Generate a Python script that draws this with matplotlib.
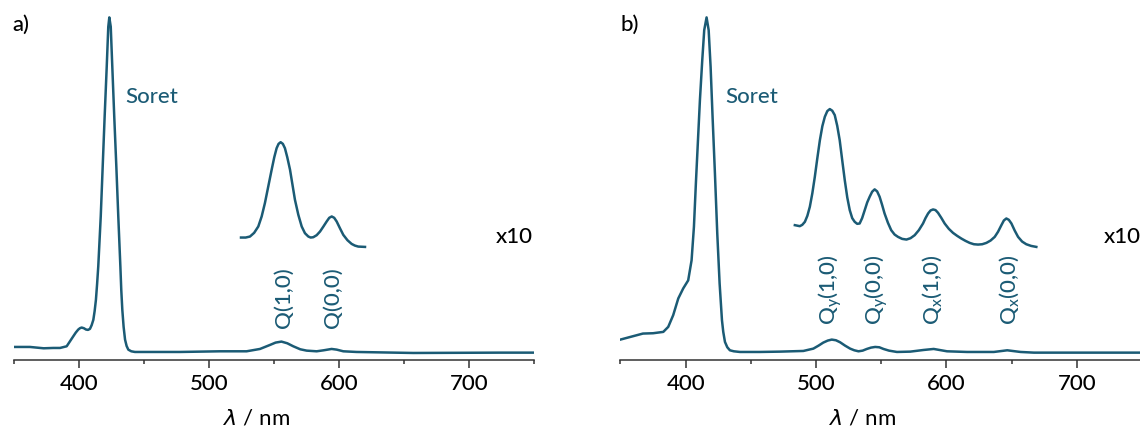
import matplotlib
matplotlib.use("Agg")
import matplotlib.pyplot as plt
from matplotlib.ticker import MultipleLocator

plt.rcParams['font.family'] = ['Lato', 'DejaVu Sans']
plt.rcParams['font.weight'] = 'medium'
plt.rcParams['mathtext.fontset'] = 'dejavusans'

TEAL = '#1b5b75'

# panel a: main spectrum (normalised absorbance)
wl_a = [350, 362, 372.6, 380, 385.2, 390.3, 395.4, 397.3, 399.2, 400.5, 401.8,
        403.5, 405.2, 406.7, 408.2, 409.5, 410.8, 411.8, 412.8, 413.7, 414.6,
        416.5, 418.0, 419.5, 421.1, 422.3, 423.1, 424.2, 425.4, 426.9, 428.5,
        430.0, 431.6, 432.3, 433.1, 434.1, 435.2, 436.4, 437.7, 440, 442.8, 460,
        477.4, 508.2, 528.7, 539, 546.7, 551, 555.5, 560, 564.6, 570, 574.9,
        582.6, 588, 594.1, 598, 603.1, 613.3, 656.9, 723.6, 750]
abs_a = [0.015, 0.015, 0.011, 0.012, 0.012, 0.017, 0.047, 0.058, 0.067, 0.071, 0.073,
         0.071, 0.067, 0.066, 0.069, 0.080, 0.096, 0.122, 0.156, 0.203, 0.256,
         0.405, 0.554, 0.703, 0.852, 0.972, 1.0, 0.972, 0.852, 0.703, 0.554,
         0.405, 0.256, 0.185, 0.126, 0.075, 0.037, 0.018, 0.007, 0.002, 0.0, 0.0,
         0.0, 0.002, 0.002, 0.009, 0.021, 0.028, 0.031, 0.026, 0.017, 0.008, 0.004,
         0.002, 0.005, 0.009, 0.007, 0.002, 0.0, -0.003, -0.002, -0.002]

# panel a: x10 inset of the Q region (as drawn, offset)
wl_a_x10 = [524.4, 528, 531.3, 534.5, 537.7, 540.3, 542.8, 545.4, 548, 550,
            551.8, 553.3, 554.9, 556.6, 558.2, 560, 562.1, 564, 565.9, 568.5,
            571.1, 573.6, 576.2, 578, 580, 582.6, 585.2, 587.8, 590.3, 592.3,
            594.2, 596.1, 598, 600.5, 603.1, 606.3, 609.5, 612, 614.6, 619.8]
abs_a_x10 = [0.342, 0.342, 0.345, 0.356, 0.375, 0.405, 0.445, 0.495, 0.545, 0.582,
             0.609, 0.622, 0.627, 0.622, 0.609, 0.582, 0.545, 0.500, 0.455, 0.410,
             0.375, 0.355, 0.345, 0.342, 0.343, 0.349, 0.360, 0.375, 0.390, 0.401,
             0.405, 0.401, 0.390, 0.370, 0.350, 0.334, 0.323, 0.318, 0.315, 0.314]

# panel b: main spectrum
wl_b = [350, 359.6, 367.3, 375.1, 382.9, 386.7, 390.5, 394.4, 398.2, 402.0, 404.6,
        406.4, 407.9, 409.5, 411.0, 412.8, 414.3, 416.1, 417.7, 419.2, 420.7,
        422.5, 424.3, 426.1, 427.9, 428.9, 430.2, 432, 434.0, 437, 441.7, 456.9,
        472.3, 490.3, 498, 502, 505.6, 509, 512.1, 515.3, 518.5, 522.3, 526.2,
        529.4, 532.6, 535.8, 539, 542.2, 545.4, 548.6, 551.8, 556, 562.1, 572.3,
        582.6, 590.3, 600.5, 615.9, 636.4, 646.7, 656.9, 667.2, 750]
abs_b = [0.037, 0.047, 0.055, 0.056, 0.060, 0.075, 0.110, 0.160, 0.190, 0.214, 0.274,
         0.374, 0.504, 0.633, 0.753, 0.873, 0.962, 1.0, 0.962, 0.852, 0.703,
         0.534, 0.354, 0.205, 0.095, 0.060, 0.030, 0.014, 0.005, 0.002, 0.0, 0.0,
         0.001, 0.003, 0.010, 0.019, 0.028, 0.034, 0.037, 0.035, 0.029, 0.019, 0.010,
         0.005, 0.002, 0.004, 0.009, 0.013, 0.015, 0.014, 0.009, 0.004, 0.0, 0.001,
         0.006, 0.009, 0.002, 0.0, 0.0, 0.005, 0.0, -0.002, -0.002]

# panel b: x10 inset
wl_b_x10 = [483.8, 487.6, 489.5, 491.5, 493.4, 495.3, 497.2, 499.1, 501, 503,
            504.9, 506.8, 508.7, 510.6, 512.5, 514.4, 516.3, 518.2, 520.1, 522.1,
            524, 525.9, 527.8, 529.7, 531.6, 533.5, 535.4, 537.4, 539.3, 541.2,
            543.1, 545, 546.9, 548.8, 550.7, 552.6, 555.2, 557.7, 560.3, 562.9,
            566.1, 569.4, 572.5, 575.7, 578.9, 582.1, 584, 586, 587.9, 589.8,
            591.7, 593.6, 596.1, 598.7, 601.9, 605.1, 608.3, 611.5, 614.7, 617.9,
            621.1, 624.3, 627.5, 630.7, 633.9, 637.1, 639.6, 642.2, 644.1, 646,
            647.9, 649.9, 652.4, 655, 658.1, 661.3, 665, 669]
abs_b_x10 = [0.379, 0.376, 0.380, 0.389, 0.407, 0.434, 0.474, 0.523, 0.578, 0.633,
             0.675, 0.703, 0.720, 0.726, 0.721, 0.708, 0.676, 0.633, 0.574, 0.513,
             0.462, 0.424, 0.400, 0.389, 0.383, 0.384, 0.400, 0.424, 0.447, 0.464,
             0.479, 0.486, 0.480, 0.464, 0.440, 0.414, 0.386, 0.364, 0.351, 0.344,
             0.338, 0.336, 0.340, 0.349, 0.364, 0.384, 0.400, 0.414, 0.423, 0.426,
             0.424, 0.416, 0.401, 0.384, 0.368, 0.356, 0.347, 0.339, 0.332, 0.326,
             0.322, 0.321, 0.322, 0.326, 0.333, 0.344, 0.359, 0.379, 0.393, 0.399,
             0.395, 0.384, 0.363, 0.344, 0.330, 0.322, 0.317, 0.314]

labels_a = ['Q(1,0)', 'Q(0,0)']
label_pos_a = [557, 595]
labels_b = [r'Q$_\mathregular{y}$(1,0)', r'Q$_\mathregular{y}$(0,0)',
            r'Q$_\mathregular{x}$(1,0)', r'Q$_\mathregular{x}$(0,0)']
label_pos_b = [511, 546.5, 590, 648.5]

FS = 16


def style_axis(ax):
    ax.set_xlim(350, 750)
    ax.set_ylim(-0.024, 1.052)
    for s in ['top', 'right', 'left']:
        ax.spines[s].set_visible(False)
    ax.spines['bottom'].set_linewidth(1.1)
    ax.spines['bottom'].set_color('#333333')
    ax.set_yticks([])
    ax.xaxis.set_major_locator(MultipleLocator(100))
    ax.xaxis.set_minor_locator(MultipleLocator(50))
    ax.tick_params(axis='x', which='major', length=6, width=1.1, color='#333333',
                   labelsize=FS, pad=4)
    ax.tick_params(axis='x', which='minor', length=3, width=1.1, color='#333333')
    ax.set_xlabel(r'$\lambda$ / nm', fontsize=FS)
    ax.xaxis.set_label_coords(0.465, -0.135)
    ax.patch.set_visible(False)


fig = plt.figure(figsize=(11.4, 4.3), dpi=100)
ax_a = fig.add_axes([0.01254, 0.1628, 0.4561, 0.8372])
ax_b = fig.add_axes([0.5442, 0.1628, 0.4575, 0.8372])

for ax, wl, ab, wl10, ab10 in [(ax_a, wl_a, abs_a, wl_a_x10, abs_a_x10),
                               (ax_b, wl_b, abs_b, wl_b_x10, abs_b_x10)]:
    ax.plot(wl, ab, color=TEAL, lw=1.8, solid_joinstyle='round')
    ax.plot(wl10, ab10, color=TEAL, lw=1.8, solid_joinstyle='round')
    style_axis(ax)
    ax.text(749, 0.344, 'x10', fontsize=FS, ha='right', va='center', color='black')

ax_a.text(435.6, 0.744, 'Soret', fontsize=FS, color=TEAL, ha='left', va='baseline')
ax_b.text(430.2, 0.744, 'Soret', fontsize=FS, color=TEAL, ha='left', va='baseline')

for lab, x in zip(labels_a, label_pos_a):
    ax_a.text(x, 0.072, lab, rotation=90, fontsize=FS, color=TEAL,
              ha='center', va='bottom')
for lab, x in zip(labels_b, label_pos_b):
    ax_b.text(x, 0.080, lab, rotation=90, fontsize=FS, color=TEAL,
              ha='center', va='bottom')

fig.text(12 / 1140, 1 - 15 / 430, 'a)', fontsize=FS, ha='left', va='top')
fig.text(620 / 1140, 1 - 15 / 430, 'b)', fontsize=FS, ha='left', va='top')

fig.savefig('out.png', dpi=100)
